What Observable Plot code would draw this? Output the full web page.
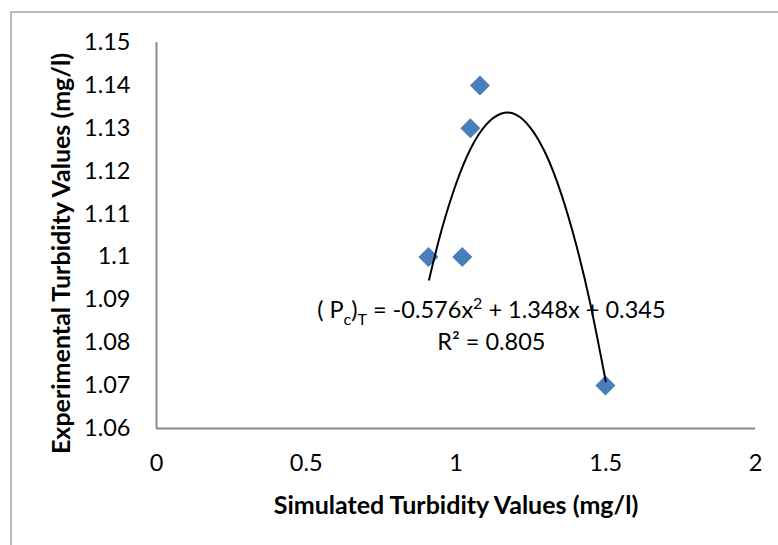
<!DOCTYPE html>
<html>
<head>
<meta charset="utf-8">
<script src="https://cdn.jsdelivr.net/npm/d3@7"></script>
<script src="https://cdn.jsdelivr.net/npm/@observablehq/plot@0.6"></script>
<style>
  html, body { margin: 0; padding: 0; background: #fff; }
</style>
</head>
<body>
<div id="chart"></div>
<script>
// Observed data points (simulated vs experimental turbidity)
const simulated    = [0.908, 1.021, 1.048, 1.080, 1.499];
const experimental = [1.10, 1.10, 1.13, 1.14, 1.07];

// Polynomial trendline, values
const trendX = [0.91, 0.95, 1.00, 1.05, 1.10, 1.15, 1.20, 1.25, 1.30, 1.35, 1.40, 1.45, 1.50];
const trendY = [1.0947, 1.1058, 1.1170, 1.1254, 1.1308, 1.1334, 1.1332, 1.1300, 1.1240, 1.1150, 1.1032, 1.0886, 1.0710];

// Axis ticks
const xTicks = [0, 0.5, 1, 1.5, 2];
const yTicks = [1.06, 1.07, 1.08, 1.09, 1.1, 1.11, 1.12, 1.13, 1.14, 1.15];

// Text
const xTitle = "Simulated Turbidity Values (mg/l)";
const yTitle = "Experimental Turbidity Values (mg/l)";
const eqLabel = "( Pc)T = -0.576x2 + 1.348x + 0.345";
const r2Label = "R² = 0.805";
const annotX = 1.118;
const annotY = [1.0875, 1.080];

const points = simulated.map((x, i) => ({x, y: experimental[i]}));
const trend = trendX.map((x, i) => ({x, y: trendY[i]}));

const FONT = "Lato, 'Open Sans', sans-serif";
const FS = 23.5;
const TS = 25;

const svg = Plot.plot({
  width: 778,
  height: 545,
  marginLeft: 156,
  marginRight: 23,
  marginTop: 42,
  marginBottom: 117,
  style: {fontFamily: FONT, fontSize: FS + "px", color: "#000", background: "#fff"},
  x: {domain: [0, 2]},
  y: {domain: [1.06, 1.15]},
  marks: [
    Plot.ruleX([0], {y1: 1.06, y2: 1.15, stroke: "#898989", strokeWidth: 2}),
    Plot.ruleY([1.06], {x1: 0, x2: 2, stroke: "#898989", strokeWidth: 2}),
    Plot.axisX({ticks: xTicks, tickSize: 0, tickPadding: 26, label: null, tickFormat: d => String(d), fontSize: FS}),
    Plot.axisY({ticks: yTicks, tickSize: 0, tickPadding: 26, label: null, tickFormat: d => String(d), fontSize: FS}),
    Plot.dot(points, {x: "x", y: "y", symbol: "diamond2", r: 9, fill: "#4a7ebb", stroke: "none"}),
    Plot.line(trend, {x: "x", y: "y", curve: "natural", stroke: "#000", strokeWidth: 2}),
    Plot.text([eqLabel], {x: annotX, y: annotY[0], text: d => d, fontSize: FS, textAnchor: "middle", lineAnchor: "middle", fill: "#000"}),
    Plot.text([r2Label], {x: annotX, y: annotY[1], text: d => d, fontSize: FS, textAnchor: "middle", lineAnchor: "middle", fill: "#000"}),
    Plot.text([xTitle], {frameAnchor: "bottom", dy: 77, text: d => d, fontSize: TS, fontWeight: "bold", textAnchor: "middle", lineAnchor: "middle", fill: "#000"}),
    Plot.text([yTitle], {frameAnchor: "left", dx: -95, dy: 18, rotate: -90, text: d => d, fontSize: TS, fontWeight: "bold", textAnchor: "middle", lineAnchor: "middle", fill: "#000"})
  ]
});

// Rebuild equation with subscripts/superscript as real tspans
d3.select(svg).selectAll("text").filter(function() { return this.textContent === eqLabel; }).each(function() {
  const t = d3.select(this);
  t.text(null);
  const parts = [
    {s: "( P"},
    {s: "c", pos: 7},
    {s: ")"},
    {s: "T", pos: 7},
    {s: " = -0.576x"},
    {s: "2", pos: -9},
    {s: " + 1.348x + 0.345"}
  ];
  let cur = 0;
  parts.forEach(p => {
    const ts = t.append("tspan").text(p.s);
    const target = p.pos || 0;
    if (target !== cur) ts.attr("dy", target - cur);
    cur = target;
    if (p.pos) ts.attr("font-size", "16px");
  });
});

// Outer chart-area border (left and top edges visible)
d3.select(svg).append("path")
  .attr("d", "M11,545V12H778")
  .attr("fill", "none")
  .attr("stroke", "#a6a6a6")
  .attr("stroke-width", 1.5);

document.getElementById("chart").appendChild(svg);
</script>
</body>
</html>
